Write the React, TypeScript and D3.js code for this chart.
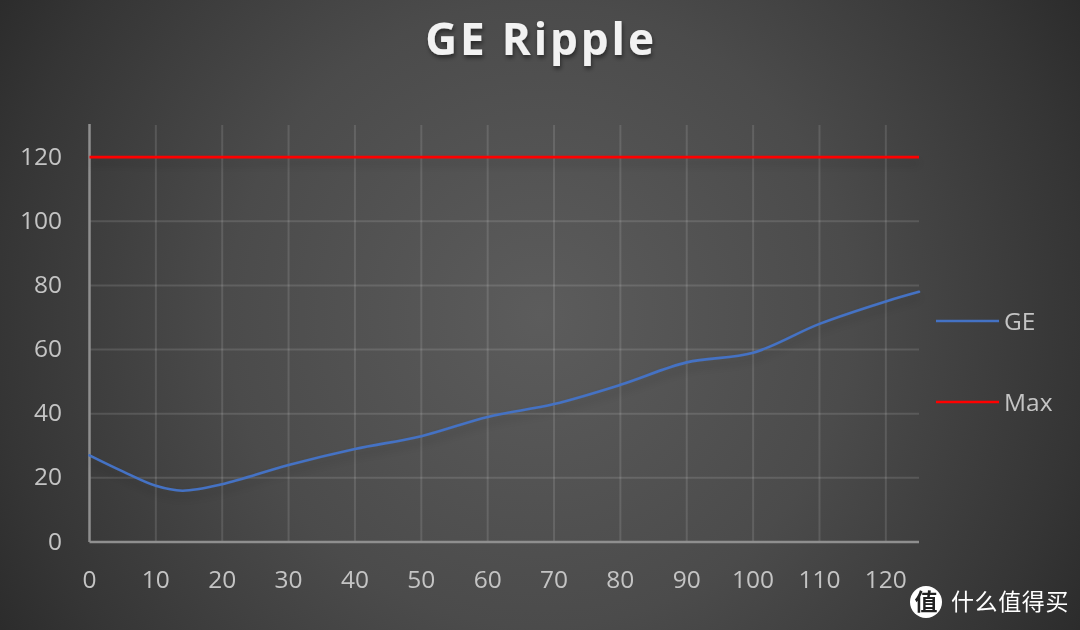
import { useEffect, useRef } from 'react';
import * as d3 from 'd3';

const geX = [0, 5, 10, 14, 20, 30, 40, 50, 60, 70, 80, 90, 100, 110, 120, 125];
const geY = [27, 22, 17.5, 16, 18, 24, 29, 33, 39, 43, 49, 56, 59, 68, 75, 78];
const maxX = [0, 125];
const maxY = [120, 120];
const xTicks = [0, 10, 20, 30, 40, 50, 60, 70, 80, 90, 100, 110, 120];
const yTicks = [0, 20, 40, 60, 80, 100, 120];
const legendLabels = ['GE', 'Max'];
const legendColors = ['#4472c4', '#ff0000'];

const W = 1080;
const H = 630;
const FONT = '"Open Sans", sans-serif';

export default function App() {
  const ref = useRef<SVGSVGElement | null>(null);
  useEffect(() => {
    const svg = d3.select(ref.current!);
    svg.selectAll('*').remove();
    svg.attr('viewBox', `0 0 ${W} ${H}`);

    const defs = svg.append('defs');
    const bg = defs.append('radialGradient').attr('id', 'bg').attr('gradientUnits', 'userSpaceOnUse')
      .attr('cx', 540).attr('cy', 315).attr('r', 624);
    bg.append('stop').attr('offset', '0').attr('stop-color', '#5c5c5c');
    bg.append('stop').attr('offset', '0.5').attr('stop-color', '#4b4b4b');
    bg.append('stop').attr('offset', '0.87').attr('stop-color', '#353535');
    bg.append('stop').attr('offset', '1').attr('stop-color', '#2c2c2c');
    const shadow = defs.append('filter').attr('id', 'shadow').attr('x', '-10%').attr('y', '-30%').attr('width', '120%').attr('height', '170%');
    shadow.append('feDropShadow').attr('dx', 1).attr('dy', 3).attr('stdDeviation', 2).attr('flood-color', '#000').attr('flood-opacity', 0.45);
    const lineShadow = defs.append('filter').attr('id', 'lineShadow').attr('filterUnits', 'userSpaceOnUse')
      .attr('x', 0).attr('y', 0).attr('width', W).attr('height', H);
    lineShadow.append('feDropShadow').attr('dx', 0).attr('dy', 6).attr('stdDeviation', 4).attr('flood-color', '#000').attr('flood-opacity', 0.2);

    svg.append('rect').attr('width', W).attr('height', H).attr('fill', 'url(#bg)');

    const x = d3.scaleLinear().domain([0, 125]).range([89.5, 919]);
    const y = d3.scaleLinear().domain([0, 130]).range([542, 125]);

    // gridlines
    svg.append('g').selectAll('line').data(yTicks.filter((d) => d > 0)).enter().append('line')
      .attr('x1', x(0)).attr('x2', x(125)).attr('y1', (d) => y(d)).attr('y2', (d) => y(d))
      .attr('stroke', '#fff').attr('stroke-opacity', 0.12).attr('stroke-width', 2);
    svg.append('g').selectAll('line').data(xTicks.filter((d) => d > 0)).enter().append('line')
      .attr('x1', (d) => x(d)).attr('x2', (d) => x(d)).attr('y1', y(130)).attr('y2', y(0))
      .attr('stroke', '#fff').attr('stroke-opacity', 0.12).attr('stroke-width', 2);

    // axis lines
    svg.append('line').attr('x1', x(0)).attr('x2', x(0)).attr('y1', y(130) - 1).attr('y2', y(0))
      .attr('stroke', '#8f8f8f').attr('stroke-width', 2.5);
    svg.append('line').attr('x1', x(0)).attr('x2', x(125)).attr('y1', y(0)).attr('y2', y(0))
      .attr('stroke', '#8f8f8f').attr('stroke-width', 2.5);

    // tick labels
    svg.append('g').selectAll('text').data(yTicks).enter().append('text')
      .attr('x', 62).attr('y', (d) => y(d) + 7.5).attr('text-anchor', 'end')
      .attr('font-family', FONT).attr('font-size', 24.5).attr('fill', '#c4c4c4').text((d) => d);
    svg.append('g').selectAll('text').data(xTicks).enter().append('text')
      .attr('x', (d) => x(d)).attr('y', 588).attr('text-anchor', 'middle')
      .attr('font-family', FONT).attr('font-size', 24.5).attr('fill', '#c4c4c4').text((d) => d);

    // series
    const geLine = d3.line<number>().x((d) => x(d)).y((_, i) => y(geY[i])).curve(d3.curveCatmullRom.alpha(0.5));
    svg.append('path').attr('d', geLine(geX)).attr('fill', 'none').attr('stroke', legendColors[0])
      .attr('stroke-width', 2.6).attr('stroke-linecap', 'round').attr('filter', 'url(#lineShadow)');
    const maxLine = d3.line<number>().x((d) => x(d)).y((_, i) => y(maxY[i]));
    svg.append('path').attr('d', maxLine(maxX)).attr('fill', 'none').attr('stroke', legendColors[1])
      .attr('stroke-width', 2.6).attr('filter', 'url(#lineShadow)');

    // legend
    const legendY = d3.scalePoint<string>().domain(legendLabels).range([321, 402]);
    const lg = svg.append('g').selectAll('g').data(legendLabels).enter().append('g')
      .attr('transform', (d) => `translate(0,${legendY(d)})`);
    lg.append('line').attr('x1', 936).attr('x2', 999).attr('y1', 0).attr('y2', 0)
      .attr('stroke', (_, i) => legendColors[i]).attr('stroke-width', 2.6);
    lg.append('text').attr('x', 1004).attr('y', 8.5).attr('font-family', FONT).attr('font-size', 24.5)
      .attr('fill', '#c4c4c4').text((d) => d);

    // title
    svg.append('text').attr('x', 541).attr('y', 55).attr('text-anchor', 'middle')
      .attr('font-family', FONT).attr('font-weight', 700).attr('font-size', 44).attr('letter-spacing', 2.9)
      .attr('fill', '#f2f2f2').attr('filter', 'url(#shadow)').text('GE Ripple');

    // watermark
    svg.append('circle').attr('cx', 926).attr('cy', 602).attr('r', 16).attr('fill', '#fff');
    svg.append('text').attr('x', 926).attr('y', 610).attr('text-anchor', 'middle')
      .attr('font-family', '"Noto Sans CJK SC"').attr('font-weight', 700).attr('font-size', 23)
      .attr('fill', '#222').text('值');
    svg.append('text').attr('x', 951).attr('y', 610).attr('font-family', '"Noto Sans CJK SC"')
      .attr('font-size', 23).attr('letter-spacing', 0.6).attr('fill', '#fff').text('什么值得买');
  }, []);
  return <svg ref={ref} width={W} height={H} style={{ position: 'fixed', left: 0, top: 0, display: 'block' }} />;
}
